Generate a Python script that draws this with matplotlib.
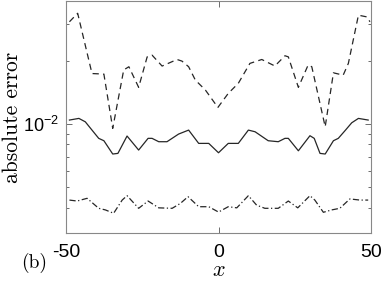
import numpy as np
import matplotlib
matplotlib.use("Agg")
import matplotlib.pyplot as plt
from matplotlib.ticker import LogLocator, NullFormatter, FixedLocator, FixedFormatter

# dashed series
x_dash = [-48.9, -46.2, -41.5, -37.6, -34.7, -31.1, -29.4, -26.2, -23.4, -21.8, -18.5,
          -13.6, -12.0, -9.8, -7.6, -4.3, -0.2, 3.2, 6.5, 10.3, 14.2, 18.5, 21.8, 22.9,
          26.2, 29.4, 30.6, 35.0, 37.7, 40.9, 42.6, 45.9, 48.6, 49.7]
y_dash = [0.0307, 0.0337, 0.0174, 0.0173, 0.00954, 0.0181, 0.01875, 0.01496, 0.0209,
          0.0213, 0.01889, 0.0203, 0.01995, 0.01875, 0.0162, 0.01452, 0.0120, 0.0140,
          0.01563, 0.01945, 0.0203, 0.0189, 0.02115, 0.0209, 0.01496, 0.0191, 0.01875,
          0.00971, 0.01754, 0.0171, 0.01945, 0.0330, 0.0324, 0.0307]

# solid series
x_solid = [-48.9, -45.8, -43.7, -41.5, -39.3, -37.6, -34.7, -33.0, -30.0, -26.2, -23.1,
           -21.8, -19.6, -16.9, -13.1, -9.8, -6.5, -3.2, 0.0, 3.2, 6.5, 9.8, 12.0, 16.3,
           19.6, 21.8, 22.9, 26.2, 30.0, 31.4, 33.3, 35.0, 37.7, 39.3, 41.5, 43.7, 45.9, 49.1]
y_solid = [0.01045, 0.01064, 0.01025, 0.00936, 0.00855, 0.00833, 0.00720, 0.00725,
           0.00877, 0.00752, 0.00855, 0.00855, 0.00824, 0.00824, 0.00896, 0.00936,
           0.00809, 0.00809, 0.00730, 0.00809, 0.00809, 0.00936, 0.00919, 0.00833,
           0.00824, 0.00855, 0.00855, 0.00746, 0.00880, 0.00855, 0.00725, 0.00720,
           0.00833, 0.00855, 0.00930, 0.01014, 0.01064, 0.01045]

# dash-dot series
x_dd = [-48.9, -46.4, -43.1, -39.3, -37.1, -34.4, -31.6, -30.0, -26.2, -23.1, -19.6,
        -15.2, -12.5, -10.0, -6.5, -3.2, 0.0, 3.2, 6.0, 9.8, 12.5, 15.2, 19.6, 22.9,
        26.0, 30.0, 31.6, 34.4, 37.1, 39.8, 43.1, 46.4, 49.1]
y_dd = [0.004345, 0.0043, 0.00443, 0.00397, 0.00390, 0.00376, 0.004345, 0.00456,
        0.00397, 0.0043, 0.00399, 0.00397, 0.00419, 0.00451, 0.00404, 0.00404, 0.00381,
        0.00404, 0.00399, 0.00456, 0.00411, 0.00397, 0.00397, 0.0043, 0.00399, 0.00456,
        0.004345, 0.00380, 0.00390, 0.00397, 0.00440, 0.004345, 0.004345]

xticks = [-50, 0, 50]
xticklabels = ["-50", "0", "50"]

plt.rcParams['mathtext.fontset'] = 'cm'
plt.rcParams['font.family'] = ['Liberation Sans', 'DejaVu Sans']

fig = plt.figure(figsize=(3.82, 2.81), dpi=100)
ax = fig.add_axes([0.173, 0.171, 0.798, 0.825])

lc = '#262626'
ax.plot(x_dash, y_dash, color=lc, lw=0.9, dashes=(5, 3.5))
ax.plot(x_solid, y_solid, color=lc, lw=0.9)
ax.plot(x_dd, y_dd, color=lc, lw=0.9, dashes=(5, 2, 1, 2))

ax.set_yscale('log')
ax.set_xlim(-50, 50)
ax.set_ylim(3.03e-3, 3.85e-2)

ax.xaxis.set_major_locator(FixedLocator(xticks))
ax.xaxis.set_major_formatter(FixedFormatter(xticklabels))
ax.yaxis.set_major_locator(FixedLocator([1e-2]))
ax.yaxis.set_major_formatter(FixedFormatter([r'$\mathregular{10^{-2}}$']))
ax.yaxis.set_minor_locator(LogLocator(base=10, subs=np.arange(2, 10)))
ax.yaxis.set_minor_formatter(NullFormatter())
ax.xaxis.set_minor_locator(FixedLocator([]))

ax.tick_params(which='both', direction='in', top=True, right=True, color='#555555',
               width=0.6)
ax.tick_params(axis='x', labelsize=14, pad=8)
ax.tick_params(axis='y', labelsize=13, pad=5)
ax.tick_params(which='major', length=4)
ax.tick_params(which='minor', length=2.5)
for s in ax.spines.values():
    s.set_color('#888888')
    s.set_linewidth(0.8)

ax.set_ylabel('absolute error', family='cmr10', fontsize=15.5, va='center')
ax.yaxis.set_label_coords(-0.176, 0.5)
ax.set_xlabel('$x$', fontsize=16, labelpad=-1)
fig.text(0.055, 0.045, '(b)', family='cmr10', fontsize=14)

fig.savefig('out.png', dpi=100)
